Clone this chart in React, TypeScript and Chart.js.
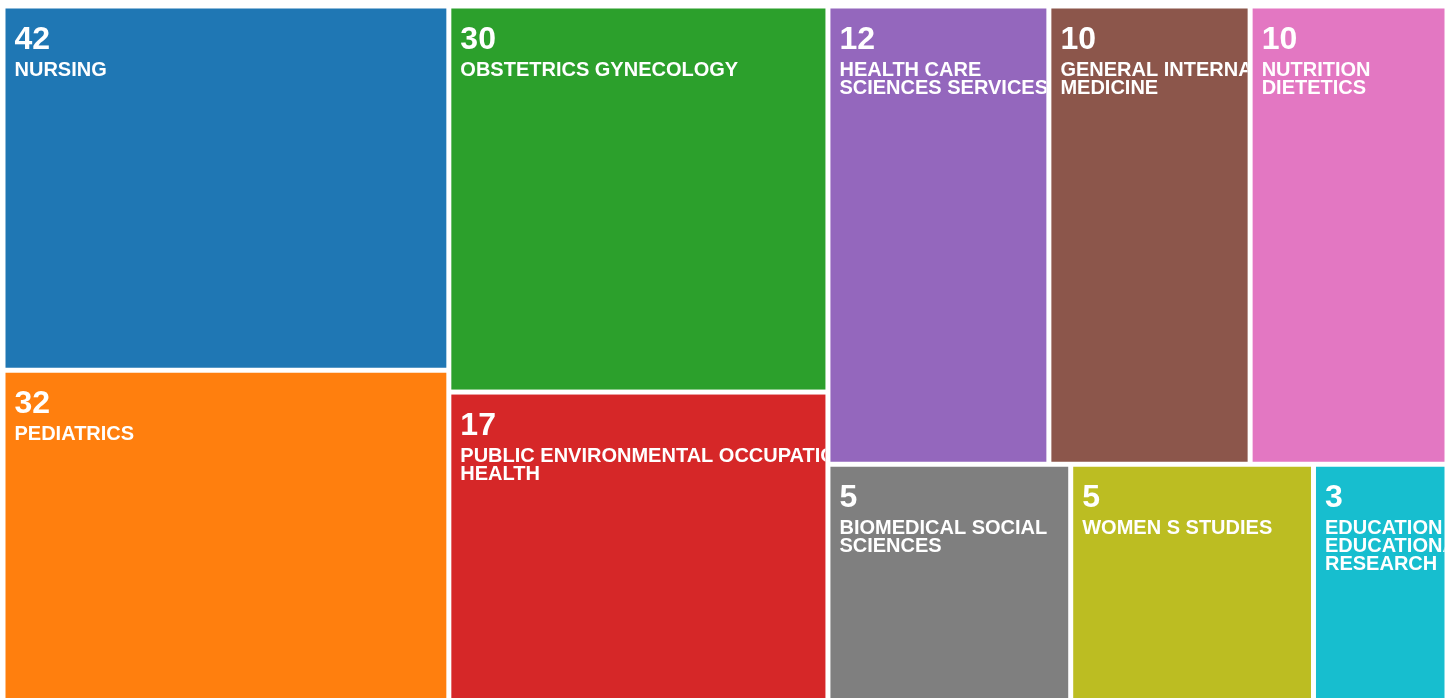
import React, { useEffect, useRef } from "react";
import { Chart, registerables } from "chart.js";

Chart.register(...registerables);

// ---- data ----
const categories = [
  "NURSING",
  "PEDIATRICS",
  "OBSTETRICS GYNECOLOGY",
  "PUBLIC ENVIRONMENTAL OCCUPATIONAL HEALTH",
  "HEALTH CARE SCIENCES SERVICES",
  "GENERAL INTERNAL MEDICINE",
  "NUTRITION DIETETICS",
  "BIOMEDICAL SOCIAL SCIENCES",
  "WOMEN S STUDIES",
  "EDUCATION EDUCATIONAL RESEARCH",
];
const recordCounts = [42, 32, 30, 17, 12, 10, 10, 5, 5, 3];
// relative tile area measure, as encoded by the tile sizes in the picture
const tileAreas = [162, 152, 146, 121, 101, 92, 90, 60, 60, 33];
const tileColors = [
  "#1f77b4",
  "#ff7f0e",
  "#2ca02c",
  "#d62728",
  "#9467bd",
  "#8c564b",
  "#e377c2",
  "#7f7f7f",
  "#bcbd22",
  "#17becf",
];

// hierarchy of the treemap (indices into the arrays above)
type Node = number | { dir: "x" | "y"; children: Node[] };
const tree: Node = {
  dir: "x",
  children: [
    { dir: "y", children: [0, 1] },
    { dir: "y", children: [2, 3] },
    {
      dir: "y",
      children: [
        { dir: "x", children: [4, 5, 6] },
        { dir: "x", children: [7, 8, 9] },
      ],
    },
  ],
};

type Cell = { i: number; x0: number; x1: number; y0: number; y1: number };

function weight(n: Node): number {
  if (typeof n === "number") return tileAreas[n];
  return n.children.reduce((s, c) => s + weight(c), 0);
}

function layout(n: Node, x0: number, x1: number, y0: number, y1: number, out: Cell[]) {
  if (typeof n === "number") {
    out.push({ i: n, x0, x1, y0, y1 });
    return;
  }
  const total = weight(n);
  let acc = 0;
  for (const c of n.children) {
    const w = weight(c);
    const a = acc / total;
    const b = (acc + w) / total;
    if (n.dir === "x") layout(c, x0 + (x1 - x0) * a, x0 + (x1 - x0) * b, y0, y1, out);
    else layout(c, x0, x1, y0 + (y1 - y0) * a, y0 + (y1 - y0) * b, out);
    acc += w;
  }
}

const GAP = 2.5;
const PAD = 9;
const NUM_FONT = 'bold 32px "Liberation Sans", Arial, sans-serif';
const LABEL_FONT = 'bold 20px "Liberation Sans", Arial, sans-serif';
const LINE_H = 18;
const AVG_CHAR = 11.1;

function wrap(text: string, width: number): string[] {
  const words = text.split(" ");
  const lines: string[] = [];
  let cur = "";
  for (const w of words) {
    const cand = cur ? cur + " " + w : w;
    if (!cur || cand.length * AVG_CHAR <= width) cur = cand;
    else {
      lines.push(cur);
      cur = w;
    }
  }
  if (cur) lines.push(cur);
  return lines;
}

const treemapPlugin = {
  id: "treemapCells",
  afterDatasetsDraw(chart: any) {
    const ctx: CanvasRenderingContext2D = chart.ctx;
    const xs = chart.scales.x;
    const ys = chart.scales.y;
    const cells: Cell[] = [];
    layout(tree, 0, 1, 0, 1, cells);
    for (const c of cells) {
      const left = xs.getPixelForValue(c.x0) + GAP;
      const right = xs.getPixelForValue(c.x1) - GAP;
      const top = ys.getPixelForValue(c.y0) + GAP;
      const bottom = ys.getPixelForValue(c.y1) - GAP;
      const w = right - left;
      const h = bottom - top;
      ctx.save();
      ctx.fillStyle = tileColors[c.i];
      ctx.fillRect(left, top, w, h);
      ctx.beginPath();
      ctx.rect(left, top, w, h);
      ctx.clip();
      ctx.fillStyle = "#ffffff";
      ctx.textAlign = "left";
      ctx.textBaseline = "alphabetic";
      ctx.font = NUM_FONT;
      ctx.fillText(String(recordCounts[c.i]), left + PAD, top + 40);
      ctx.font = LABEL_FONT;
      const lines = wrap(categories[c.i], w);
      lines.forEach((ln, k) => {
        ctx.fillText(ln, left + PAD, top + 67.5 + k * LINE_H);
      });
      ctx.restore();
    }
  },
};

export default function App() {
  const ref = useRef<HTMLCanvasElement | null>(null);
  useEffect(() => {
    if (!ref.current) return;
    const chart = new Chart(ref.current, {
      type: "scatter",
      data: { datasets: [{ label: "cells", data: [] }] },
      options: {
        animation: false,
        responsive: false,
        maintainAspectRatio: false,
        layout: { padding: 0 },
        scales: {
          x: { type: "linear", min: 0, max: 1, display: false },
          y: { type: "linear", min: 0, max: 1, reverse: true, display: false },
        },
        plugins: {
          legend: { display: false },
          tooltip: { enabled: false },
          title: { display: false },
        },
      },
      plugins: [treemapPlugin],
    });
    return () => chart.destroy();
  }, []);
  return (
    <div style={{ position: "absolute", left: 3, top: 6, width: 1444, height: 706 }}>
      <canvas ref={ref} width={1444} height={706} style={{ width: 1444, height: 706, display: "block" }} />
    </div>
  );
}
